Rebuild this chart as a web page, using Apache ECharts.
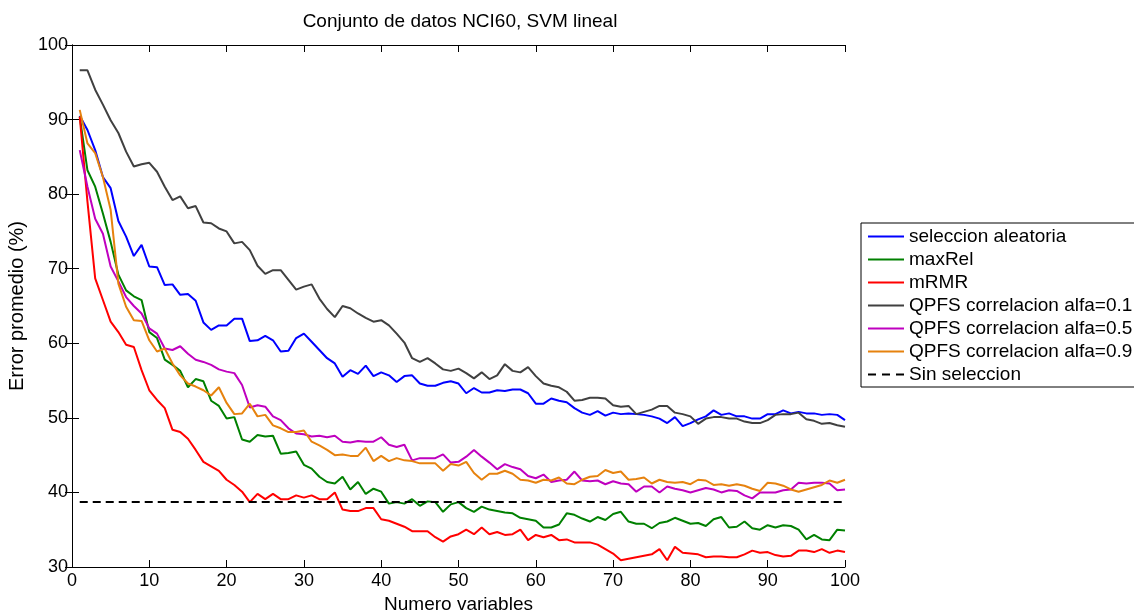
<!DOCTYPE html>
<html style="height: 100%">
<head>
	<meta charset="utf-8">
</head>
<body style="height: 100%; margin: 0; background: #fff">
<div id="container" style="width: 1134px; height: 610px"></div>
<script type="text/javascript" src="https://cdn.jsdelivr.net/npm/echarts@6/dist/echarts.min.js"></script>
<script type="text/javascript">
    var dom = document.getElementById("container");
    var myChart = echarts.init(dom);

    // numero de variables 1..100
    var seleccionAleatoria = [
        90.5, 88.6, 85.9, 82.3, 80.8, 76.4, 74.3, 71.7, 73.2, 70.3,
        70.2, 67.8, 67.9, 66.5, 66.6, 65.7, 62.8, 61.8, 62.4, 62.4,
        63.3, 63.3, 60.3, 60.4, 61.0, 60.4, 58.9, 59.0, 60.7, 61.3,
        60.2, 59.1, 58.0, 57.3, 55.5, 56.4, 55.9, 57.0, 55.6, 56.1,
        55.7, 54.8, 55.6, 55.7, 54.6, 54.3, 54.3, 54.7, 54.9, 54.6,
        53.3, 54.0, 53.4, 53.4, 53.7, 53.6, 53.8, 53.8, 53.3, 51.9,
        51.9, 52.6, 52.3, 52.1, 51.3, 50.7, 50.4, 50.9, 50.3, 50.7,
        50.5, 50.6, 50.5, 50.4, 50.2, 49.9, 49.3, 50.1, 48.9, 49.3,
        49.8, 50.2, 51.0, 50.4, 50.6, 50.2, 50.2, 49.9, 49.9, 50.5,
        50.5, 51.0, 50.6, 50.8, 50.6, 50.6, 50.4, 50.5, 50.4, 49.7
    ];
    var maxRel = [
        90.4, 83.2, 81.0, 77.4, 73.6, 69.2, 67.1, 66.3, 65.8, 61.5,
        60.7, 57.8, 57.1, 56.3, 54.1, 55.2, 54.9, 52.3, 51.6, 49.9,
        50.1, 47.1, 46.8, 47.7, 47.5, 47.6, 45.2, 45.3, 45.5, 43.7,
        43.2, 42.1, 41.4, 41.2, 42.1, 40.4, 41.4, 39.8, 40.5, 40.1,
        38.5, 38.7, 38.5, 39.1, 38.2, 38.8, 38.7, 37.4, 38.4, 38.7,
        37.9, 37.4, 38.1, 37.7, 37.5, 37.3, 37.2, 36.6, 36.4, 36.2,
        35.3, 35.3, 35.7, 37.2, 37.0, 36.5, 36.1, 36.7, 36.3, 37.1,
        37.4, 36.1, 35.8, 35.8, 35.2, 35.9, 36.1, 36.6, 36.2, 35.8,
        35.9, 35.5, 36.4, 36.7, 35.3, 35.4, 36.1, 35.2, 35.0, 35.6,
        35.3, 35.6, 35.5, 35.0, 33.7, 34.3, 33.7, 33.6, 35.0, 34.9
    ];
    var mRMR = [
        90.4, 79.0, 68.7, 65.8, 62.9, 61.5, 59.8, 59.5, 56.4, 53.7,
        52.4, 51.3, 48.4, 48.1, 47.2, 45.7, 44.1, 43.5, 42.9, 41.7,
        41.0, 40.1, 38.7, 39.8, 39.1, 39.8, 39.1, 39.1, 39.6, 39.3,
        39.6, 39.1, 39.1, 40.0, 37.7, 37.5, 37.5, 37.9, 37.9, 36.4,
        36.2, 35.8, 35.4, 34.8, 34.8, 34.8, 34.0, 33.4, 34.1, 34.4,
        35.0, 34.4, 35.3, 34.4, 34.7, 34.3, 34.4, 35.0, 33.6, 34.3,
        34.0, 34.3, 33.6, 33.7, 33.3, 33.3, 33.3, 33.0, 32.4, 31.8,
        30.9, 31.1, 31.3, 31.5, 31.7, 32.4, 30.9, 32.7, 31.9, 31.8,
        31.7, 31.3, 31.4, 31.4, 31.3, 31.3, 31.7, 32.2, 31.9, 32.0,
        31.6, 31.4, 31.5, 32.2, 32.2, 32.0, 32.4, 31.9, 32.2, 32.0
    ];
    var qpfs01 = [
        96.6, 96.6, 94.0, 92.0, 89.9, 88.2, 85.7, 83.7, 84.0, 84.2,
        83.0, 81.0, 79.2, 79.7, 78.1, 78.4, 76.2, 76.1, 75.4, 75.0,
        73.4, 73.6, 72.5, 70.4, 69.3, 69.8, 69.8, 68.5, 67.2, 67.6,
        67.9, 66.0, 64.6, 63.5, 65.0, 64.7, 64.0, 63.4, 62.9, 63.1,
        62.4, 61.3, 60.1, 58.0, 57.5, 58.0, 57.3, 56.5, 56.3, 56.6,
        56.0, 55.3, 56.1, 55.2, 55.7, 57.2, 56.3, 56.1, 56.8, 55.6,
        54.6, 54.3, 54.1, 53.5, 52.3, 52.4, 52.7, 52.7, 52.6, 51.7,
        51.5, 51.6, 50.5, 50.8, 51.1, 51.6, 51.6, 50.7, 50.5, 50.2,
        49.2, 49.9, 50.1, 50.1, 49.9, 49.9, 49.5, 49.3, 49.3, 49.7,
        50.4, 50.5, 50.5, 50.7, 49.8, 49.6, 49.2, 49.3, 49.0, 48.8
    ];
    var qpfs05 = [
        85.9, 81.0, 76.7, 74.7, 70.3, 68.3, 66.2, 65.0, 64.0, 62.0,
        61.3, 59.3, 59.1, 59.6, 58.6, 57.8, 57.5, 57.1, 56.5, 56.2,
        56.0, 54.4, 51.4, 51.7, 51.5, 50.2, 49.7, 48.6, 47.9, 47.8,
        47.5, 47.6, 47.4, 47.6, 46.8, 46.7, 46.9, 46.8, 46.8, 47.4,
        46.4, 46.1, 46.4, 44.3, 44.6, 44.6, 44.6, 45.1, 44.0, 44.1,
        44.8, 45.7, 44.8, 44.0, 43.1, 43.8, 43.4, 43.1, 42.2, 41.9,
        42.4, 41.4, 41.6, 41.7, 42.8, 41.6, 41.5, 41.6, 41.1, 41.5,
        41.2, 41.1, 40.1, 40.8, 40.8, 40.0, 40.8, 40.5, 40.3, 40.0,
        40.3, 40.6, 40.4, 40.0, 40.3, 40.2, 39.6, 39.2, 40.0, 40.0,
        40.0, 40.3, 40.4, 41.3, 41.2, 41.3, 41.3, 41.2, 40.3, 40.4
    ];
    var qpfs09 = [
        91.3, 86.8, 85.5, 82.3, 77.9, 68.0, 64.9, 63.1, 63.0, 60.4,
        58.9, 59.3, 57.3, 55.7, 54.6, 54.2, 53.7, 53.0, 54.1, 52.0,
        50.5, 50.6, 51.9, 50.2, 50.4, 49.0, 48.6, 48.1, 48.1, 48.3,
        46.8, 46.3, 45.7, 45.0, 45.1, 44.9, 44.9, 46.0, 44.2, 44.9,
        44.2, 44.6, 44.3, 44.2, 43.9, 43.9, 43.9, 42.9, 43.8, 43.6,
        44.1, 42.6, 41.7, 42.5, 42.5, 42.9, 42.5, 41.7, 41.6, 41.3,
        41.7, 41.6, 42.0, 41.2, 41.1, 41.7, 42.1, 42.2, 43.0, 42.6,
        42.8, 41.7, 41.8, 42.0, 41.2, 41.7, 41.4, 41.3, 41.4, 41.1,
        41.7, 41.6, 41.0, 41.1, 40.9, 41.1, 40.9, 40.5, 40.2, 41.3,
        41.2, 40.9, 40.4, 40.1, 40.4, 40.7, 41.0, 41.6, 41.3, 41.7
    ];
    var sinSeleccion = 38.7;

    var xTicks = [0, 10, 20, 30, 40, 50, 60, 70, 80, 90, 100];
    var yTicks = [30, 40, 50, 60, 70, 80, 90, 100];

    var nombres = [
        'seleccion aleatoria', 'maxRel', 'mRMR',
        'QPFS correlacion alfa=0.1', 'QPFS correlacion alfa=0.5',
        'QPFS correlacion alfa=0.9', 'Sin seleccion'
    ];
    var colores = ['#0000ff', '#008000', '#ff0000', '#404040', '#bf00bf', '#e6820e', '#000000'];
    var valores = [seleccionAleatoria, maxRel, mRMR, qpfs01, qpfs05, qpfs09];

    function pares(arr) {
        var out = [];
        for (var i = 0; i < arr.length; i++) {
            out.push([i + 1, arr[i]]);
        }
        return out;
    }

    var series = [];
    for (var k = 0; k < valores.length; k++) {
        series.push({
            name: nombres[k],
            type: 'line',
            data: pares(valores[k]),
            symbol: 'none',
            animation: false,
            lineStyle: { color: colores[k], width: 2 },
            itemStyle: { color: colores[k] }
        });
    }
    series.push({
        name: nombres[6],
        type: 'line',
        data: [[1, sinSeleccion], [100, sinSeleccion]],
        symbol: 'none',
        animation: false,
        lineStyle: { color: '#000', width: 2, type: [8, 5] },
        itemStyle: { color: '#000' }
    });

    // iconos de leyenda: linea continua y linea discontinua
    var legendData = nombres.map(function (n, i) {
        return {
            name: n,
            icon: i === 6 ? 'path://M0,0h8v2h-8zM14,0h8v2h-8zM28,0h8v2h-8z' : 'path://M0,0h36v2h-36z'
        };
    });

    var fuente = 'Liberation Sans, Arial, Helvetica, sans-serif';
    var ejeComun = {
        axisLine: { show: true, lineStyle: { color: '#000', width: 1 } },
        axisTick: { show: true, inside: true, length: 7, lineStyle: { color: '#000' } },
        splitLine: { show: false }
    };

    var option = {
        backgroundColor: '#ffffff',
        textStyle: { fontFamily: fuente },
        title: {
            text: 'Conjunto de datos NCI60, SVM lineal',
            left: 460,
            textAlign: 'center',
            top: 12,
            padding: 0,
            textStyle: { fontSize: 19, fontWeight: 'normal', color: '#000', fontFamily: fuente }
        },
        grid: { left: 72, right: 289, top: 45, bottom: 43, containLabel: false, outerBoundsMode: 'none' },
        legend: {
            orient: 'vertical',
            left: 861,
            top: 223,
            padding: [4, 20, 3, 7],
            itemWidth: 36,
            itemHeight: 2,
            itemGap: 4,
            borderColor: '#000',
            borderWidth: 1,
            backgroundColor: '#fff',
            data: legendData,
            textStyle: { fontSize: 19, lineHeight: 19, color: '#000', fontFamily: fuente }
        },
        xAxis: [
            Object.assign({
                type: 'value', min: xTicks[0], max: xTicks[xTicks.length - 1], interval: 10,
                position: 'bottom',
                name: 'Numero variables', nameLocation: 'middle', nameGap: 26,
                nameTextStyle: { fontSize: 19, color: '#000', fontFamily: fuente },
                axisLabel: { color: '#000', fontSize: 18, margin: 5, fontFamily: fuente }
            }, ejeComun),
            Object.assign({
                type: 'value', min: xTicks[0], max: xTicks[xTicks.length - 1], interval: 10,
                position: 'top',
                axisLabel: { show: false }
            }, ejeComun)
        ],
        yAxis: [
            Object.assign({
                type: 'value', min: yTicks[0], max: yTicks[yTicks.length - 1], interval: 10,
                position: 'left',
                name: 'Error promedio (%)', nameLocation: 'middle', nameGap: 41,
                nameTextStyle: { fontSize: 20, color: '#000', fontFamily: fuente },
                axisLabel: { color: '#000', fontSize: 18, margin: 4, fontFamily: fuente }
            }, ejeComun),
            Object.assign({
                type: 'value', min: yTicks[0], max: yTicks[yTicks.length - 1], interval: 10,
                position: 'right',
                axisLabel: { show: false }
            }, ejeComun)
        ],
        series: series
    };

    myChart.setOption(option, true);
</script>
</body>
</html>
